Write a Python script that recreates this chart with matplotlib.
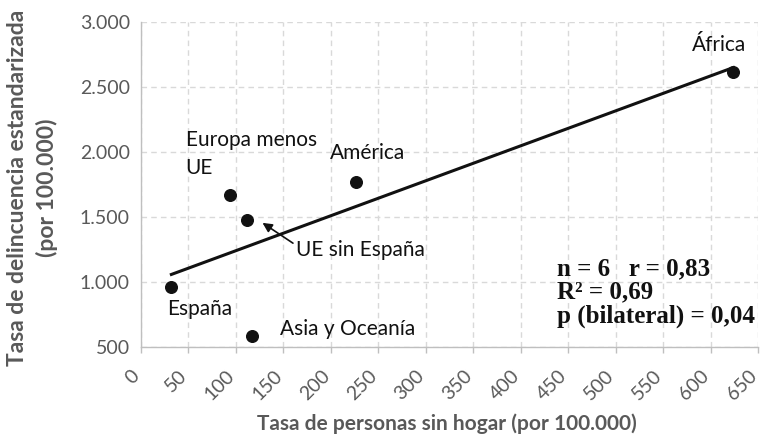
import numpy as np
import matplotlib
matplotlib.use("Agg")
import matplotlib.pyplot as plt
import matplotlib.transforms as mtransforms
from matplotlib.ticker import FuncFormatter

regions = ["España", "Asia y Oceanía", "UE sin España", "Europa menos UE", "América", "África"]
homeless = [32, 117, 112, 94, 227, 624]
crime = [960, 585, 1477, 1669, 1769, 2615]
x_ticks = list(range(0, 651, 50))
y_ticks = [500, 1000, 1500, 2000, 2500, 3000]

plt.rcParams['font.family'] = ['Lato', 'DejaVu Sans']
gray = '#595959'

fig = plt.figure(figsize=(7.62, 4.36), dpi=100)
ax = fig.add_axes([141/762, 1-347/436, 617/762, 325/436])

x = np.array(homeless, float)
y = np.array(crime, float)
m, b = np.polyfit(x, y, 1)
xl = np.array([x.min(), x.max()])
ax.plot(xl, m*xl + b, color='#111111', lw=2.2, zorder=3)
ax.scatter(x, y, s=70, color='#111111', zorder=4)

ax.set_xlim(0, 650)
ax.set_ylim(500, 3000)
ax.set_xticks(x_ticks)
ax.set_yticks(y_ticks)
ax.yaxis.set_major_formatter(FuncFormatter(lambda v, p: f"{int(v):,}".replace(",", ".")))
ax.tick_params(axis='y', length=0, colors=gray, labelsize=14, pad=8)
ax.tick_params(axis='x', length=4, width=1, color='#bfbfbf', labelcolor=gray, labelsize=14, pad=15)
shift = mtransforms.ScaledTranslation(-4/100, 0, fig.dpi_scale_trans)
for lab in ax.get_xticklabels():
    lab.set_rotation(45)
    lab.set_ha('right')
    lab.set_va('center')
    lab.set_rotation_mode('anchor')
    lab.set_transform(lab.get_transform() + shift)
ax.grid(True, color='#d9d9d9', ls=(0, (4, 3)), lw=1)
ax.set_axisbelow(True)
for s in ['top', 'right']:
    ax.spines[s].set_visible(False)
for s in ['left', 'bottom']:
    ax.spines[s].set_color('#bfbfbf')
    ax.spines[s].set_linewidth(1)

fs = 15
ax.text(47, 1985, "Europa menos\nUE", fontsize=fs, ha='left', va='center', linespacing=1.45, color='#111111')
ax.text(199, 1992, "América", fontsize=fs, ha='left', va='center', color='#111111')
ax.text(580, 2823, "África", fontsize=fs, ha='left', va='center', color='#111111')
ax.text(28, 792, "España", fontsize=fs, ha='left', va='center', color='#111111')
ax.text(146, 638, "Asia y Oceanía", fontsize=fs, ha='left', va='center', color='#111111')
ax.annotate("UE sin España", xy=(128, 1455), xytext=(163, 1246), fontsize=fs,
            ha='left', va='center', color='#111111',
            arrowprops=dict(arrowstyle='-|>', color='#111111', lw=1.2,
                            shrinkA=0, shrinkB=0, mutation_scale=14,
                            relpos=(0, 0.75)))

sfont = dict(family='Liberation Serif', weight='bold', fontsize=18, color='#111111')
fig.text(557/762, 1-269/436, "n = 6   r = 0,83", ha='left', va='center', **sfont)
fig.text(557/762, 1-292/436, "R² = 0,69", ha='left', va='center', **sfont)
fig.text(557/762, 1-316/436, "p (bilateral) = 0,04", ha='left', va='center', **sfont)

fig.text(18/762, 1-188/436, "Tasa de delincuencia estandarizada", rotation=90,
         ha='center', va='center', fontsize=16.5, weight='bold', color=gray)
fig.text(47/762, 1-188/436, "(por 100.000)", rotation=90,
         ha='center', va='center', fontsize=16.5, weight='bold', color=gray)
fig.text(447/762, 1-424/436, "Tasa de personas sin hogar (por 100.000)", ha='center', va='center',
         fontsize=15, weight='bold', color=gray)

fig.savefig("out.png", dpi=100)
